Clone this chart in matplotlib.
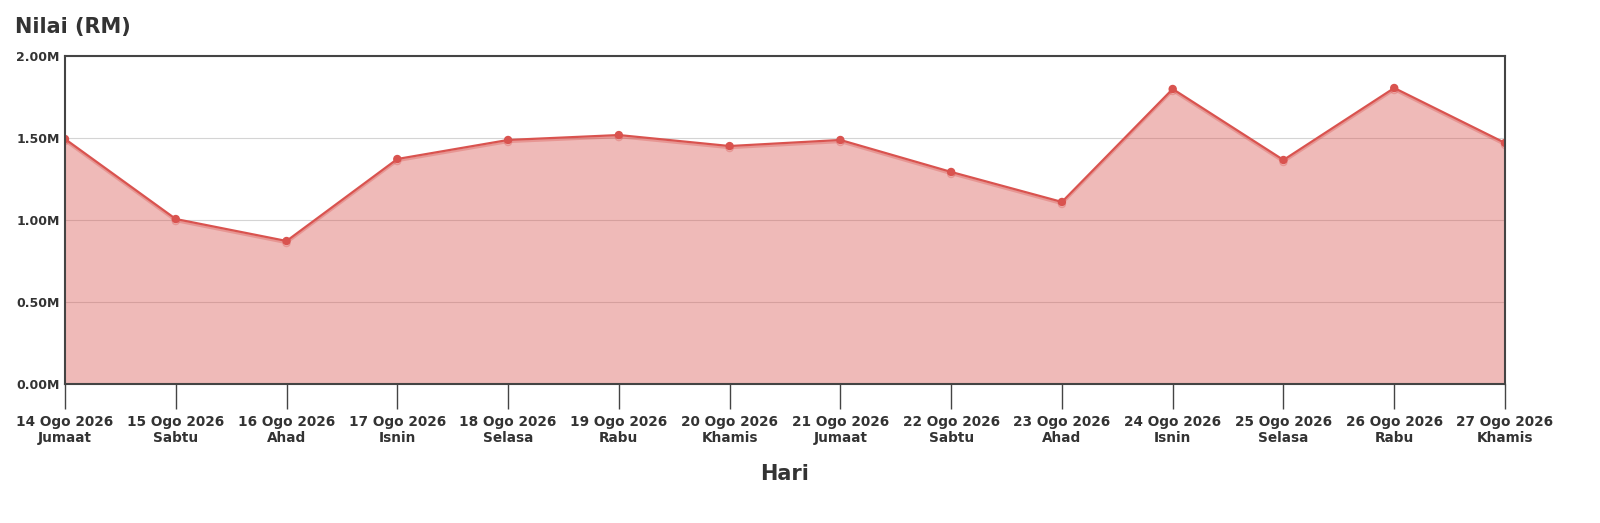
import matplotlib
matplotlib.use("Agg")
import matplotlib.pyplot as plt
import matplotlib.patheffects as pe
from matplotlib.ticker import FuncFormatter

# values, in millions of RM
dates = ['14 Ogo 2026', '15 Ogo 2026', '16 Ogo 2026', '17 Ogo 2026', '18 Ogo 2026',
         '19 Ogo 2026', '20 Ogo 2026', '21 Ogo 2026', '22 Ogo 2026', '23 Ogo 2026',
         '24 Ogo 2026', '25 Ogo 2026', '26 Ogo 2026', '27 Ogo 2026']
days = ['Jumaat', 'Sabtu', 'Ahad', 'Isnin', 'Selasa', 'Rabu', 'Khamis',
        'Jumaat', 'Sabtu', 'Ahad', 'Isnin', 'Selasa', 'Rabu', 'Khamis']
nilai = [1.494, 1.006, 0.872, 1.372, 1.488, 1.518, 1.451,
         1.488, 1.293, 1.110, 1.799, 1.366, 1.805, 1.470]

line_col = '#d9534f'
text_col = '#333333'

fig = plt.figure(figsize=(16, 5.23), dpi=100)
ax = fig.add_axes([65 / 1600, 1 - 384 / 523, 1440 / 1600, 328 / 523])

x = list(range(len(nilai)))
ax.fill_between(x, nilai, 0, color=line_col, alpha=0.4, linewidth=0, zorder=1)
ax.plot(x, nilai, color=line_col, linewidth=1.6, marker='o', markersize=5,
        zorder=3,
        path_effects=[pe.SimpleLineShadow(offset=(0, -1.5), shadow_color=line_col, alpha=0.35),
                      pe.Normal()])

ax.set_xlim(0, len(nilai) - 1)
ax.set_ylim(0, 2.0)
ax.set_yticks([0, 0.5, 1.0, 1.5, 2.0])
ax.yaxis.set_major_formatter(FuncFormatter(lambda v, p: '%.2fM' % v))
ax.set_xticks(x)
ax.set_xticklabels(['%s\n%s' % (d, w) for d, w in zip(dates, days)])

# grid sits under the translucent fill, so it shows darker through it
ax.set_axisbelow(True)
ax.grid(axis='y', color='#d4d4d4', linewidth=0.8, zorder=0)
ax.tick_params(axis='y', length=0, pad=4, labelsize=9, labelcolor=text_col)
ax.tick_params(axis='x', length=18, width=1, color='#444444', pad=4,
               labelsize=9.8, labelcolor=text_col)
for lbl in ax.get_xticklabels() + ax.get_yticklabels():
    lbl.set_fontweight('bold')
for s in ax.spines.values():
    s.set_color('#444444')
    s.set_linewidth(1.5)
    s.set_zorder(4)

ax.set_xlabel('Hari', fontsize=15, fontweight='bold', color=text_col, labelpad=14)
fig.text(15 / 1600, 1 - 27 / 523, 'Nilai (RM)', fontsize=15, fontweight='bold',
         color=text_col, ha='left', va='center')

fig.savefig('out.png', dpi=100)
